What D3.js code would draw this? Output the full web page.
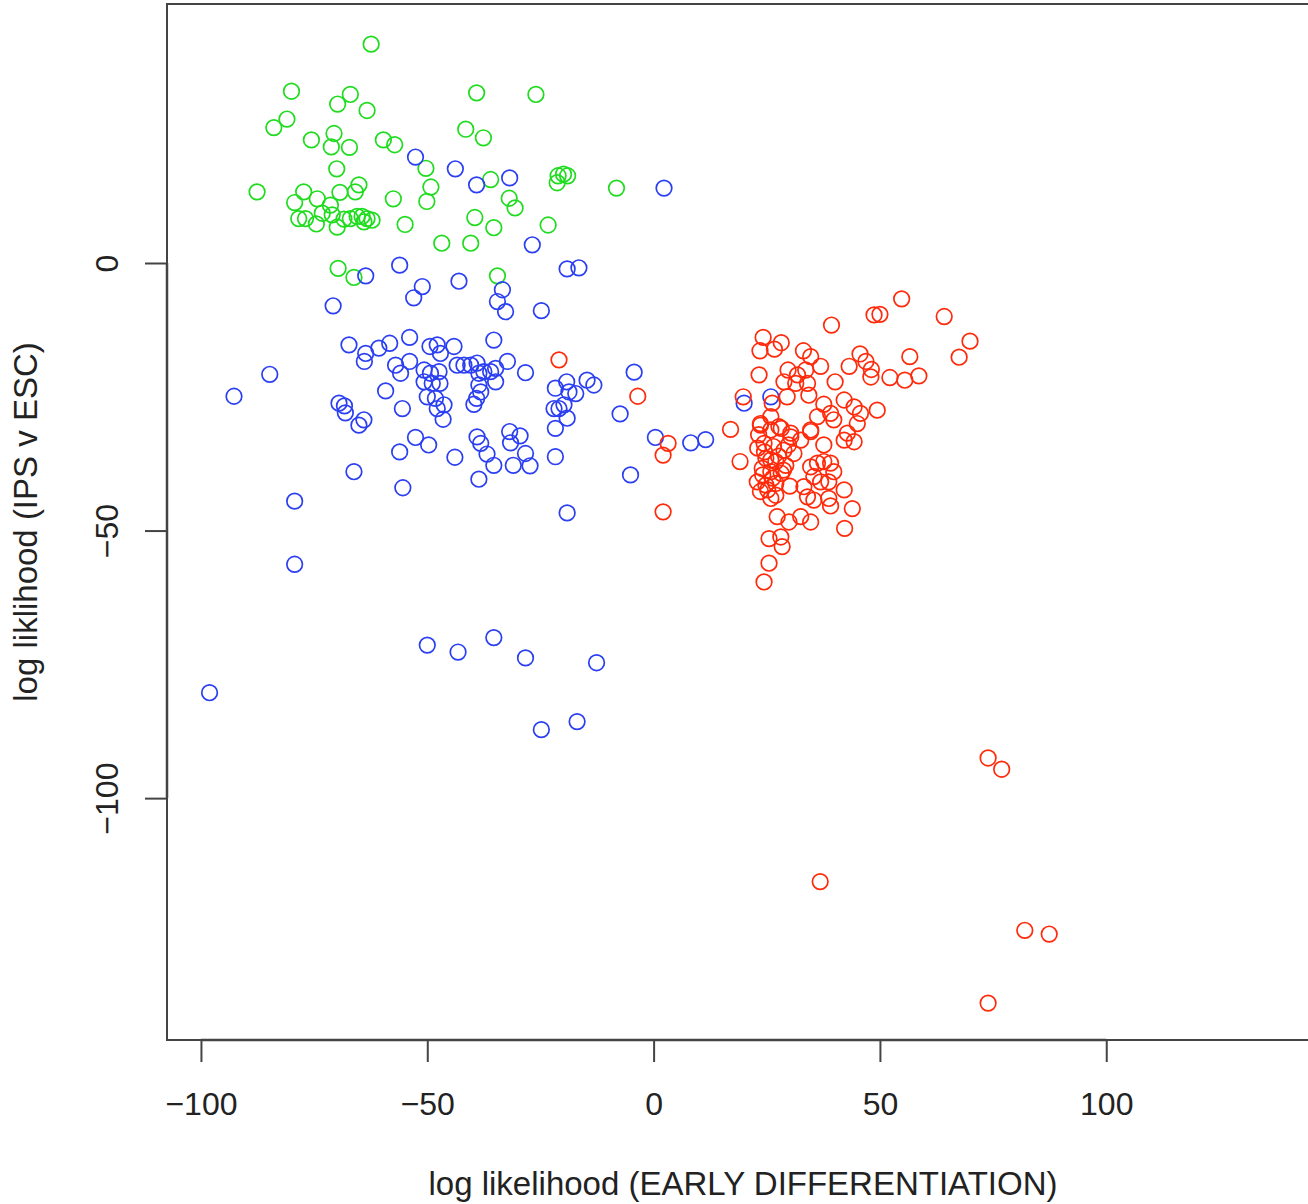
<!DOCTYPE html>
<meta charset="utf-8">
<style>
  body { margin: 0; background: #fff; }
  text { font-family: "Liberation Sans", Arial, sans-serif; fill: #222; }
  .pts circle { fill: none; stroke-width: 1.7px; }
</style>
<svg width="1308" height="1204"></svg>
<script src="https://d3js.org/d3.v7.min.js"></script>
<script>
  // log likelihood pairs [early differentiation, IPS v ESC]
  var greenPts = [
    [-62.4,40.9],[-80.0,32.1],[-67.0,31.5],[-69.8,29.7],[-63.3,28.5],[-81.0,26.9],[-83.9,25.3],[-39.1,31.8],
    [-26.0,31.5],[-41.5,25.0],[-37.6,23.4],[-75.6,23.0],[-70.6,24.2],[-71.2,21.7],[-67.2,21.6],[-59.7,23.0],
    [-57.2,22.1],[-70.0,17.6],[-50.3,17.7],[-49.2,14.2],[-50.1,11.5],[-36.0,15.6],[-31.9,12.1],[-30.6,10.3],
    [-21.1,16.3],[-19.9,16.6],[-19.0,16.3],[-21.3,15.0],[-57.5,12.0],[-54.9,7.2],[-39.5,8.5],[-35.3,6.6],
    [-46.8,3.7],[-40.4,3.7],[-23.3,7.1],[-87.6,13.3],[-77.3,13.3],[-74.3,12.0],[-79.3,11.3],[-69.3,13.2],
    [-65.1,14.6],[-65.9,13.3],[-71.4,10.8],[-78.4,8.3],[-76.9,8.3],[-74.5,7.3],[-73.2,9.3],[-69.9,6.7],
    [-71.0,9.0],[-68.4,8.2],[-67.0,8.3],[-65.5,8.7],[-64.4,8.7],[-63.3,8.3],[-62.2,8.0],[-64.0,7.7],
    [-69.7,-1.0],[-66.2,-2.7],[-8.2,14.0],[-34.5,-2.4]
  ];

  var bluePts = [
    [-43.8,17.6],[-39.1,14.6],[-31.8,15.9],[2.3,14.0],[-26.8,3.4],[-19.1,-1.1],[-16.5,-0.9],[-52.6,19.8],
    [-56.1,-0.4],[-63.6,-2.4],[-51.1,-4.4],[-53.0,-6.5],[-43.0,-3.4],[-70.8,-8.0],[-33.4,-5.0],[-34.5,-7.2],
    [-32.7,-9.1],[-24.8,-8.9],[-35.3,-14.4],[-4.3,-20.4],[-28.3,-20.5],
    [-84.8,-20.8],[-92.7,-24.9],[-67.3,-15.3],[-63.6,-16.9],[-63.9,-18.4],[-60.7,-15.9],[-58.3,-15.0],
    [-53.9,-13.9],[-49.4,-15.6],[-47.8,-15.3],[-47.1,-16.9],[-44.1,-15.6],[-57.0,-19.1],[-55.9,-20.6],[-53.9,-18.4],
    [-50.7,-20.0],[-49.3,-20.6],[-47.4,-20.3],[-50.7,-22.2],[-48.9,-22.5],[-47.2,-22.5],[-50.0,-25.0],[-48.2,-25.3],
    [-46.3,-26.5],[-47.8,-27.2],[-46.5,-29.2],
    [-43.4,-19.1],[-41.9,-19.1],[-40.4,-19.1],[-59.2,-23.9],[-55.5,-27.2],[-69.5,-26.2],[-68.3,-26.7],[-68.1,-28.0],
    [-64.0,-29.3],[-65.1,-30.3],[-52.6,-32.6],[-49.7,-34.0],[-56.1,-35.3],[-43.9,-36.3],[-66.2,-39.0],[-55.4,-42.0],
    [-79.3,-44.5],[-79.3,-56.3],[-98.1,-80.3],[-50.0,-71.4],[-43.2,-72.7],[-35.3,-70.0],[-28.3,-73.8],[-12.6,-74.7],
    [-24.8,-87.2],[-16.9,-85.7],
    [-39.0,-18.7],[-38.6,-20.6],[-37.5,-20.3],[-36.0,-20.3],[-34.9,-19.7],[-32.3,-18.4],[-34.9,-22.2],[-38.6,-22.8],
    [-38.2,-24.1],[-39.1,-25.3],[-39.7,-26.4],[-39.0,-32.5],[-38.2,-33.7],[-36.8,-35.7],[-35.3,-37.8],[-38.6,-40.4],
    [-31.8,-31.5],[-31.6,-33.6],[-29.5,-32.3],[-28.3,-35.6],[-31.0,-37.8],[-27.3,-37.9],
    [-21.7,-23.4],[-19.2,-22.2],[-18.7,-24.1],[-17.2,-24.4],[-14.7,-21.9],[-13.2,-22.8],
    [-22.0,-27.2],[-20.9,-27.2],[-19.8,-26.5],[-19.1,-29.0],[-21.7,-30.9],[-21.7,-36.2],[-19.1,-46.7],
    [-7.4,-28.2],[-5.1,-39.6],[0.4,-32.6],[8.2,-33.6],[11.5,-33.0],[20.0,-26.2],[25.9,-25.0]
  ];

  var redPts = [
    [-20.9,-18.1],[-3.5,-24.9],[3.2,-33.7],[2.1,-35.9],[2.1,-46.5],[17.0,-31.1],
    [54.8,-6.7],[48.7,-9.7],[50.0,-9.6],[64.2,-10.0],[39.3,-11.6],[69.9,-14.6],[67.5,-17.6],[56.6,-17.5],
    [52.2,-21.4],[55.5,-21.9],[58.6,-21.1],[45.6,-17.0],[46.9,-18.4],[48.1,-19.9],[48.0,-21.3],[43.2,-19.3],
    [40.1,-22.2],[24.2,-13.9],[23.5,-16.4],[26.7,-16.1],[28.2,-14.9],[33.1,-16.4],[34.7,-17.5],[36.9,-19.3],
    [23.3,-20.9],[29.7,-20.0],[31.8,-20.9],[33.6,-20.0],[34.0,-22.5],[28.8,-22.2],[31.4,-22.5],[34.3,-24.7],
    [29.5,-25.0],[19.8,-25.0],[26.2,-26.2],
    [37.6,-26.4],[36.2,-28.7],[39.1,-28.1],[39.8,-29.3],[42.1,-25.6],[44.3,-26.9],[45.7,-28.1],[45.0,-30.0],
    [49.4,-27.5],[23.6,-30.0],[25.9,-28.7],[27.7,-30.6],[30.3,-31.8],[34.7,-31.5],
    [19.1,-37.1],[23.6,-30.3],[25.9,-31.2],[28.2,-30.9],[30.3,-32.5],[24.4,-33.7],[26.5,-34.3],[28.8,-35.0],
    [31.0,-35.6],[24.8,-36.5],[27.0,-37.1],[29.2,-37.8],[24.0,-38.4],[25.9,-39.0],[28.2,-39.3],[22.9,-40.9],
    [24.8,-41.5],[27.0,-41.2],[23.6,-42.7],[25.9,-44.0],[30.1,-41.7],[32.5,-33.1],[34.7,-31.2],[37.6,-34.0],
    [34.7,-38.1],[36.2,-37.4],[37.6,-37.1],[39.1,-37.4],[39.8,-39.0],[35.4,-39.9],[36.9,-40.9],[38.7,-40.9],
    [33.2,-41.8],[34.0,-43.7],[35.4,-44.3],[38.7,-44.0],[39.1,-45.4],[42.1,-42.4],[43.9,-45.9],[42.2,-49.6],
    [42.1,-33.1],[44.3,-33.4],[42.8,-31.8],
    [23.0,-34.6],[24.5,-35.3],[25.9,-36.8],[27.6,-36.1],[24.1,-39.6],[26.3,-40.2],[28.7,-38.7],[25.2,-42.4],
    [27.0,-43.4],[23.2,-32.1],[29.8,-34.0],
    [32.5,-47.4],[34.7,-48.4],[29.9,-48.4],[27.3,-47.4],[25.5,-51.5],[28.1,-51.2],[28.4,-53.0],[25.5,-56.1],
    [24.4,-59.6],
    [73.9,-92.5],[76.9,-94.6],[36.8,-115.6],[82.0,-124.7],[87.4,-125.4],[73.9,-138.3]
  ];

  var groups = [
    { pts: greenPts, color: "#1fdc1f" },
    { pts: bluePts, color: "#2b3ff2" },
    { pts: redPts, color: "#ff2a0a" }
  ];

  var xTicks = [-100, -50, 0, 50, 100];
  var yTicks = [0, -50, -100];

  var svg = d3.select("svg");
  var boxL = 167, boxT = 4, boxR = 1319, boxB = 1040;

  var x = d3.scaleLinear().domain([-107.5, 147.0]).range([boxL, boxR]);
  var y = d3.scaleLinear().domain([48.4, -145.2]).range([boxT, boxB]);

  function fmt(d) { return d < 0 ? "\u2212" + Math.abs(d) : d; }

  // plot box (runs off the right edge like the original)
  svg.append("rect")
    .attr("x", boxL).attr("y", boxT)
    .attr("width", boxR - boxL).attr("height", boxB - boxT)
    .attr("fill", "none").attr("stroke", "#444").attr("stroke-width", 2);

  var xAxis = svg.append("g")
    .attr("transform", "translate(0," + boxB + ")")
    .call(d3.axisBottom(x).tickValues(xTicks).tickSize(22).tickPadding(30).tickFormat(fmt));
  xAxis.select(".domain").remove();
  xAxis.selectAll(".tick line").attr("stroke", "#444").attr("stroke-width", 2);
  xAxis.selectAll(".tick text").style("font-size", "32px").attr("fill", "#222");
  xAxis.append("line")
    .attr("x1", x(xTicks[0])).attr("x2", x(xTicks[xTicks.length - 1]))
    .attr("stroke", "#444").attr("stroke-width", 2.5);

  var yAxis = svg.append("g")
    .attr("transform", "translate(" + boxL + ",0)")
    .call(d3.axisLeft(y).tickValues(yTicks).tickSize(22).tickFormat(fmt));
  yAxis.select(".domain").remove();
  yAxis.selectAll(".tick line").attr("stroke", "#444").attr("stroke-width", 2);
  yAxis.selectAll(".tick text")
    .attr("x", null).attr("dy", null)
    .attr("text-anchor", "middle")
    .attr("transform", "translate(-49,0) rotate(-90)")
    .style("font-size", "32px").attr("fill", "#222");
  yAxis.append("line")
    .attr("y1", y(yTicks[0])).attr("y2", y(yTicks[yTicks.length - 1]))
    .attr("stroke", "#444").attr("stroke-width", 2.5);

  // points
  groups.forEach(function(g) {
    svg.append("g").attr("class", "pts")
      .selectAll("circle")
      .data(g.pts)
      .enter().append("circle")
      .attr("cx", function(d) { return x(d[0]); })
      .attr("cy", function(d) { return y(d[1]); })
      .attr("r", 7.8)
      .attr("stroke", g.color);
  });

  // axis titles
  svg.append("text")
    .attr("x", (boxL + boxR) / 2).attr("y", 1195)
    .attr("text-anchor", "middle")
    .style("font-size", "33px")
    .text("log likelihood (EARLY DIFFERENTIATION)");

  svg.append("text")
    .attr("transform", "translate(37," + (boxT + boxB) / 2 + ") rotate(-90)")
    .attr("text-anchor", "middle")
    .style("font-size", "33px")
    .text("log liklihood (IPS v ESC)");
</script>
